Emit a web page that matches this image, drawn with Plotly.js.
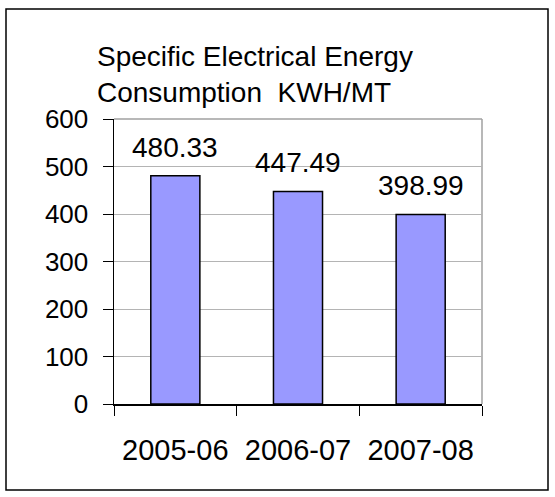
<!DOCTYPE html>
<html>
<head>
<meta charset="utf-8">
<script src="https://cdn.plot.ly/plotly-3.0.1.min.js"></script>
<style>html,body{margin:0;padding:0;background:#fff;}#chart{width:555px;height:497px;}</style>
</head>
<body>
<div id="chart"></div>
<script>
const categories = ["2005-06", "2006-07", "2007-08"];
const values = [480.33, 447.49, 398.99];
const valueLabels = ["480.33", "447.49", "398.99"];
const yTicks = [0, 100, 200, 300, 400, 500, 600];
const titleLines = ["Specific Electrical Energy", "Consumption&nbsp; KWH/MT"];

const FONT = "Liberation Sans, Arial, Helvetica, sans-serif";
const L = 114, R = 73, T = 119, B = 93, W = 555, H = 497;
const pw = W - L - R, ph = H - T - B;
const px2x = p => (p - L) / pw;
const py2y = p => (H - B - p) / ph;

const trace = {
  type: "bar",
  x: categories,
  y: values,
  marker: {color: "#9999ff", line: {color: "#000000", width: 1.5}},
  hoverinfo: "skip"
};

const annotations = categories.map((c, i) => ({
  x: c, y: values[i], xref: "x", yref: "y",
  text: valueLabels[i], showarrow: false,
  yanchor: "bottom", yshift: 11,
  font: {family: FONT, size: 28, color: "#000"}
}));

const layout = {
  width: W, height: H,
  margin: {l: L, r: R, t: T, b: B, pad: 0},
  paper_bgcolor: "#ffffff", plot_bgcolor: "#ffffff",
  showlegend: false,
  bargap: 0.6,
  title: {
    text: titleLines.join("<br>"),
    xref: "container", yref: "container",
    x: 97 / W, xanchor: "left",
    y: 1 - 66 / H, yanchor: "top",
    font: {family: FONT, size: 28, color: "#000"}
  },
  xaxis: {
    type: "category",
    showgrid: false,
    showline: true, linecolor: "#000", linewidth: 1.5,
    ticks: "outside", ticklen: 10, tickcolor: "#000", tickwidth: 1,
    tickson: "boundaries",
    ticklabelstandoff: 20,
    tickfont: {family: FONT, size: 29, color: "#000"},
    fixedrange: true
  },
  yaxis: {
    range: [0, 600],
    tickvals: yTicks,
    ticktext: yTicks.map(String),
    showgrid: true, gridcolor: "#b4b4b4", gridwidth: 1,
    zeroline: false,
    showline: true, linecolor: "#000", linewidth: 1.5,
    ticks: "outside", ticklen: 10, tickcolor: "#000", tickwidth: 1,
    ticklabelstandoff: 9,
    tickfont: {family: FONT, size: 26, color: "#000"},
    fixedrange: true
  },
  annotations: annotations,
  shapes: [
    {type: "line", xref: "paper", yref: "paper", x0: 0, x1: 1, y0: 1, y1: 1,
     line: {color: "#a0a0a0", width: 1.5}, layer: "below"},
    {type: "line", xref: "paper", yref: "paper", x0: 1, x1: 1, y0: 0, y1: 1,
     line: {color: "#a0a0a0", width: 1.5}, layer: "below"},
    {type: "rect", xref: "paper", yref: "paper",
     x0: px2x(6), x1: px2x(548), y0: py2y(490), y1: py2y(9),
     line: {color: "#000", width: 1.5}, fillcolor: "rgba(0,0,0,0)", layer: "above"}
  ]
};

Plotly.newPlot("chart", [trace], layout, {displayModeBar: false, staticPlot: true});
</script>
</body>
</html>
